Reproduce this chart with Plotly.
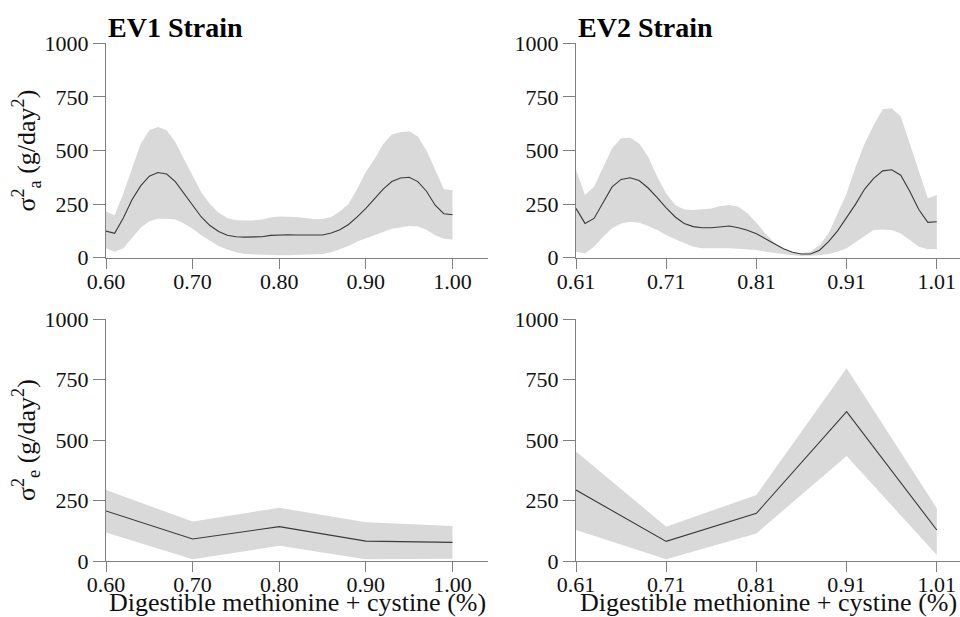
import plotly.graph_objects as go

# ---------------- data ----------------
ev1_x = [0.60, 0.61, 0.62, 0.63, 0.64, 0.65, 0.66, 0.67, 0.68, 0.69, 0.70,
         0.71, 0.72, 0.73, 0.74, 0.75, 0.76, 0.77, 0.78, 0.79, 0.80,
         0.81, 0.82, 0.83, 0.84, 0.85, 0.86, 0.87, 0.88, 0.89, 0.90,
         0.91, 0.92, 0.93, 0.94, 0.95, 0.96, 0.97, 0.98, 0.99, 1.00]
ev1_a_mean = [124, 114, 185, 270, 335, 380, 397, 390, 355, 300, 240,
              190, 150, 122, 105, 98, 96, 96, 98, 104, 107,
              107, 106, 105, 105, 106, 115, 130, 155, 190, 230,
              275, 320, 355, 372, 375, 355, 310, 245, 205, 200]
ev1_a_upper = [215, 198, 300, 420, 530, 595, 610, 595, 540, 460, 380,
               305, 250, 210, 185, 175, 174, 174, 178, 188, 192,
               192, 190, 185, 180, 180, 190, 215, 250, 320, 400,
               460, 530, 575, 585, 590, 565, 500, 410, 320, 315]
ev1_a_lower = [44, 28, 44, 90, 140, 170, 182, 182, 178, 160, 135,
               105, 78, 55, 38, 25, 17, 14, 12, 12, 11,
               12, 13, 14, 15, 17, 25, 40, 55, 75, 90,
               105, 120, 135, 140, 148, 145, 130, 105, 88, 85]

ev2_x = [0.61, 0.62, 0.63, 0.64, 0.65, 0.66, 0.67, 0.68, 0.69, 0.70, 0.71,
         0.72, 0.73, 0.74, 0.75, 0.76, 0.77, 0.78, 0.79, 0.80, 0.81,
         0.82, 0.83, 0.84, 0.85, 0.86, 0.87, 0.88, 0.89, 0.90, 0.91,
         0.92, 0.93, 0.94, 0.95, 0.96, 0.97, 0.98, 0.99, 1.00, 1.01]
ev2_a_mean = [230, 160, 183, 260, 330, 365, 373, 360, 325, 280, 232,
              190, 160, 145, 140, 140, 145, 148, 140, 128, 112,
              90, 65, 42, 25, 17, 17, 35, 75, 125, 185,
              250, 320, 370, 405, 410, 385, 310, 225, 165, 168]
ev2_a_upper = [410, 292, 331, 424, 510, 557, 560, 533, 471, 378, 300,
               246, 225, 222, 225, 230, 241, 246, 238, 207, 163,
               113, 70, 39, 25, 20, 28, 59, 113, 207, 300,
               424, 533, 619, 692, 697, 658, 533, 409, 277, 292]
ev2_a_lower = [28, 20, 51, 98, 137, 160, 168, 163, 148, 129, 106,
               86, 67, 51, 44, 44, 44, 44, 44, 39, 36,
               28, 20, 16, 11, 8, 8, 11, 17, 28, 44,
               70, 101, 129, 132, 129, 113, 82, 51, 39, 39]

ev1_e_x = [0.60, 0.70, 0.80, 0.90, 1.00]
ev1_e_mean = [207, 91, 142, 82, 77]
ev1_e_upper = [293, 163, 220, 160, 145]
ev1_e_lower = [118, 7, 63, 7, 9]

ev2_e_x = [0.61, 0.71, 0.81, 0.91, 1.01]
ev2_e_mean = [293, 81, 197, 617, 128]
ev2_e_upper = [452, 142, 273, 796, 218]
ev2_e_lower = [128, 7, 114, 434, 25]

y_ticks = [0, 250, 500, 750, 1000]
ev1_ticks = [0.60, 0.70, 0.80, 0.90, 1.00]
ev2_ticks = [0.61, 0.71, 0.81, 0.91, 1.01]
panel_titles = ["EV1 Strain", "EV2 Strain"]
x_title = "Digestible methionine + cystine (%)"
y_title_a = "σ<sup>2</sup><sub>a</sub> (g/day<sup>2</sup>)"
y_title_e = "σ<sup>2</sup><sub>e</sub> (g/day<sup>2</sup>)"

# ---------------- figure ----------------
W, H = 960, 617
FONT = "Liberation Serif"
BAND = "#d9d9d9"
LINE = "#3a3a3a"
AXIS = "#808080"

fig = go.Figure()

panels = [
    (ev1_x, ev1_a_mean, ev1_a_upper, ev1_a_lower, "x", "y"),
    (ev2_x, ev2_a_mean, ev2_a_upper, ev2_a_lower, "x2", "y2"),
    (ev1_e_x, ev1_e_mean, ev1_e_upper, ev1_e_lower, "x3", "y3"),
    (ev2_e_x, ev2_e_mean, ev2_e_upper, ev2_e_lower, "x4", "y4"),
]
for xs, mean, up, lo, xa, ya in panels:
    fig.add_trace(go.Scatter(
        x=list(xs) + list(xs)[::-1], y=list(up) + list(lo)[::-1],
        fill="toself", fillcolor=BAND, line=dict(width=0), mode="lines",
        hoverinfo="skip", showlegend=False, xaxis=xa, yaxis=ya))
    fig.add_trace(go.Scatter(
        x=xs, y=mean, mode="lines", line=dict(color=LINE, width=1.1),
        showlegend=False, xaxis=xa, yaxis=ya))

def px_x(p):
    return p / W

def px_y(p):
    return 1 - p / H

xl = [px_x(106), px_x(488)]
xr = [px_x(576), 1.0]
yt = [px_y(257.7), px_y(43.3)]
yb = [px_y(561), px_y(319)]

common_x = dict(showline=True, linecolor=AXIS, linewidth=1, ticks="outside",
                ticklen=10, tickcolor=AXIS, tickwidth=1, showgrid=False,
                zeroline=False, automargin=False, ticklabelstandoff=-6,
                tickfont=dict(family=FONT, size=22, color="#111"),
                tickformat=".2f")
common_y = dict(showline=True, linecolor=AXIS, linewidth=1, ticks="outside",
                ticklen=12, tickcolor=AXIS, tickwidth=1, showgrid=False,
                zeroline=False, automargin=False,
                tickfont=dict(family=FONT, size=22, color="#111"),
                range=[0, 1000], tickvals=y_ticks)

fig.update_layout(
    template="none",
    width=W, height=H,
    margin=dict(l=0, r=0, t=0, b=0, autoexpand=False),
    paper_bgcolor="white", plot_bgcolor="white",
    font=dict(family=FONT, color="#111"),
    xaxis=dict(domain=xl, anchor="y", range=[0.60, 1.041], tickvals=ev1_ticks, **common_x),
    yaxis=dict(domain=yt, anchor="x", **common_y),
    xaxis2=dict(domain=xr, anchor="y2", range=[0.61, 1.0357], tickvals=ev2_ticks, **common_x),
    yaxis2=dict(domain=yt, anchor="x2", **common_y),
    xaxis3=dict(domain=xl, anchor="y3", range=[0.60, 1.041], tickvals=ev1_ticks, **common_x),
    yaxis3=dict(domain=yb, anchor="x3", **common_y),
    xaxis4=dict(domain=xr, anchor="y4", range=[0.61, 1.0357], tickvals=ev2_ticks, **common_x),
    yaxis4=dict(domain=yb, anchor="x4", **common_y),
)

ann = []
for title, xpx in zip(panel_titles, [106, 576]):
    ann.append(dict(text="<b>" + title + "</b>", x=px_x(xpx), y=px_y(28),
                    xref="paper", yref="paper", xanchor="left", yanchor="middle",
                    showarrow=False, font=dict(family=FONT, size=28, color="#000")))
for xc in [(106 + 488) / 2, (576 + 960) / 2]:
    ann.append(dict(text=x_title, x=px_x(xc), y=px_y(602),
                    xref="paper", yref="paper", xanchor="center", yanchor="middle",
                    showarrow=False, font=dict(family=FONT, size=26, color="#111")))
for t, yc in [(y_title_a, 150.5), (y_title_e, 440)]:
    ann.append(dict(text=t, x=px_x(26), y=px_y(yc), textangle=-90,
                    xref="paper", yref="paper", xanchor="center", yanchor="middle",
                    showarrow=False, font=dict(family=FONT, size=26, color="#111")))
fig.update_layout(annotations=ann)

fig.write_html(
    "out.html",
    config={"displayModeBar": False},
    post_script="document.body.style.margin='0';document.body.style.padding='0';"
                "document.body.style.overflow='hidden';",
)
